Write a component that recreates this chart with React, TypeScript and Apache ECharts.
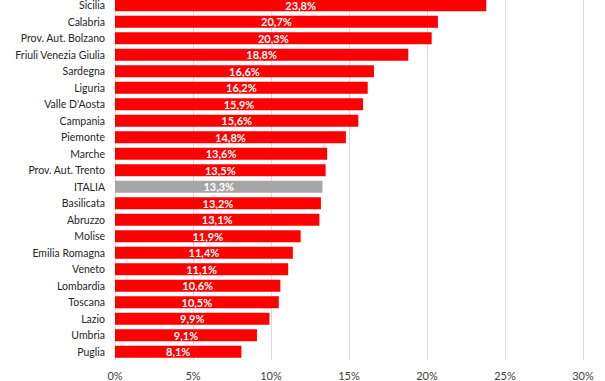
import React, { useEffect, useRef } from "react";
import * as echarts from "echarts";

const categories = [
  "Sicilia", "Calabria", "Prov. Aut. Bolzano", "Friuli Venezia Giulia", "Sardegna",
  "Liguria", "Valle D'Aosta", "Campania", "Piemonte", "Marche", "Prov. Aut. Trento",
  "ITALIA", "Basilicata", "Abruzzo", "Molise", "Emilia Romagna", "Veneto",
  "Lombardia", "Toscana", "Lazio", "Umbria", "Puglia",
];
const values = [
  23.8, 20.7, 20.3, 18.8, 16.6, 16.2, 15.9, 15.6, 14.8, 13.6, 13.5,
  13.3, 13.2, 13.1, 11.9, 11.4, 11.1, 10.6, 10.5, 9.9, 9.1, 8.1,
];
const highlight = "ITALIA";
const xTicks = [0, 5, 10, 15, 20, 25, 30];

export default function App() {
  const ref = useRef<HTMLDivElement>(null);
  useEffect(() => {
    if (!ref.current) return;
    const chart = echarts.init(ref.current, null, { renderer: "svg" });
    const font = "Lato, 'Open Sans', sans-serif";
    chart.setOption({
      animation: false,
      grid: { left: 115, right: 22, top: 0, height: 363, containLabel: false },
      xAxis: {
        type: "value",
        min: xTicks[0],
        max: xTicks[xTicks.length - 1],
        interval: 5,
        axisLine: { show: false },
        axisTick: { show: false },
        splitLine: { show: true, lineStyle: { color: "#d9d9d9", width: 1 } },
        axisLabel: {
          formatter: (v: number) => `${v}%`,
          color: "#404040",
          fontFamily: font,
          fontSize: 11,
          margin: 10,
        },
      },
      yAxis: {
        type: "category",
        data: categories,
        inverse: true,
        axisLine: { show: false },
        axisTick: { show: false },
        axisLabel: { color: "#262626", fontFamily: font, fontSize: 10.5, margin: 10 },
      },
      series: [
        {
          type: "bar",
          data: values.map((v, i) => ({
            value: v,
            itemStyle: { color: categories[i] === highlight ? "#a6a6a6" : "#ff0000" },
          })),
          barCategoryGap: "27%",
          label: {
            show: true,
            position: "inside",
            color: "#ffffff",
            fontWeight: "bold",
            fontFamily: font,
            fontSize: 11,
            formatter: (p: any) => `${String(p.value.toFixed(1)).replace(".", ",")}%`,
          },
        },
      ],
    });
    return () => chart.dispose();
  }, []);
  return (
    <div
      ref={ref}
      style={{ position: "absolute", left: 0, top: -3, width: 605, height: 384, background: "#fff" }}
    />
  );
}
